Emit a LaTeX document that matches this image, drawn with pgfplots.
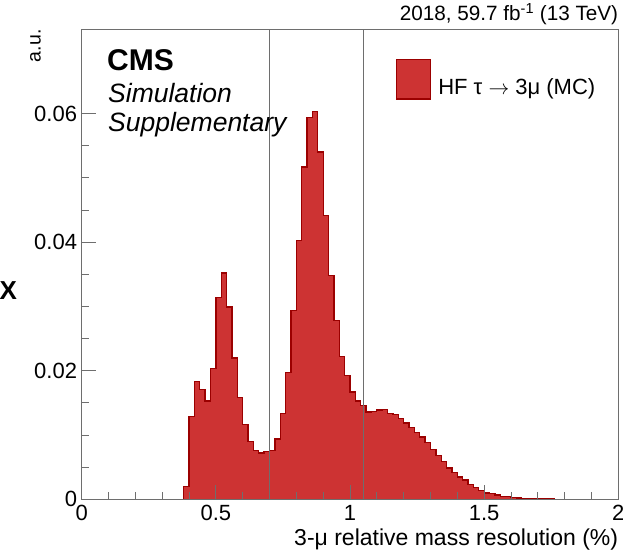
\documentclass[border=0pt]{standalone}
\usepackage{fontspec}
\setmainfont{Liberation Sans}
\usepackage{pgfplots}
\pgfplotsset{compat=1.18}
\definecolor{histfill}{RGB}{205,51,51}
\definecolor{histline}{RGB}{155,0,0}
\definecolor{framegray}{RGB}{110,110,110}
\begin{document}
\begin{tikzpicture}
\begin{axis}[
  name=ax,
  scale only axis,
  width=536.6pt, height=470.1pt,
  xmin=0, xmax=2, ymin=0, ymax=0.0731,
  scaled y ticks=false, scaled x ticks=false,
  clip=false,
  axis on top,
  axis line style={draw=framegray, line width=0.9pt},
  tick style={draw=framegray, line width=0.9pt},
  tick align=inside,
  xtick pos=left, ytick pos=left,
  xtick={0,0.5,1,1.5,2}, xticklabels={0,0.5,1,1.5,2},
  ytick={0,0.02,0.04,0.06}, yticklabels={0,0.02,0.04,0.06},
  minor x tick num=4, minor y tick num=3,
  major tick length=14pt, minor tick length=7pt,
  ticklabel style={font=\fontsize{22}{26}\selectfont, inner sep=0pt},
  xticklabel style={anchor=north, yshift=-6pt},
  yticklabel style={anchor=east, xshift=-4.5pt},
  xlabel={3-μ relative mass resolution (\%)},
  ylabel={a.u.},
  xlabel style={at={(axis description cs:1,-0.0970)}, anchor=base east, inner sep=0pt, font=\fontsize{23}{27}\selectfont},
  ylabel style={at={(axis description cs:-0.07641,1)}, anchor=base east, inner sep=0pt, font=\fontsize{19.5}{23}\selectfont},
  legend style={at={(axis description cs:0.5852,0.8938)}, anchor=west, draw=none, fill=none, inner sep=0pt, outer sep=0pt, font=\fontsize{22}{26}\selectfont, nodes={inner sep=0pt}},
  legend image code/.code={\draw[#1] (0pt,-12pt) rectangle (34.3pt,27.7pt);},
]
\addplot[const plot, fill=histfill, draw=histline, line width=1.3pt] coordinates {
(0.00,0) (0.36,0) (0.38,0.0020) (0.40,0.0129) (0.42,0.0183) (0.44,0.0171)
(0.46,0.0153) (0.48,0.0204) (0.50,0.0314) (0.52,0.0352) (0.54,0.0299)
(0.56,0.0220) (0.58,0.0159) (0.60,0.0116) (0.62,0.0090) (0.64,0.0076)
(0.66,0.0072) (0.68,0.0075) (0.70,0.0076) (0.72,0.0094) (0.74,0.0134)
(0.76,0.0197) (0.78,0.0294) (0.80,0.0403) (0.82,0.0517) (0.84,0.0594)
(0.86,0.0603) (0.88,0.0540) (0.90,0.0442) (0.92,0.0348) (0.94,0.0278)
(0.96,0.0222) (0.98,0.0193) (1.00,0.0167) (1.02,0.0153) (1.04,0.0146)
(1.06,0.0136) (1.08,0.0137) (1.10,0.0139) (1.12,0.0140) (1.14,0.0134)
(1.16,0.0132) (1.18,0.0126) (1.20,0.0119) (1.22,0.0112) (1.24,0.0104)
(1.26,0.0097) (1.28,0.0089) (1.30,0.0078) (1.32,0.0068) (1.34,0.0059)
(1.36,0.0049) (1.38,0.0042) (1.40,0.0035) (1.42,0.0030) (1.44,0.0023)
(1.46,0.0018) (1.48,0.0014) (1.50,0.0010) (1.52,0.0009) (1.54,0.0007)
(1.56,0.0005) (1.58,0.0004) (1.60,0.0003) (1.62,0.00022) (1.64,0.00018)
(1.66,0.00014) (1.68,0.00010) (1.70,0.00008) (1.72,0.00006) (1.74,0.00005)
(1.76,0.00004) (1.78,0.00003) (1.80,0.00003) (1.82,0.00002) (1.84,0.00002)
(1.86,0.00001) (1.88,0.00001) (1.90,0) (2.00,0)
} \closedcycle;
\addlegendentry{\hspace*{7pt}HF τ $\rightarrow$ 3μ (MC)}
\addplot[framegray, line width=0.9pt, forget plot] coordinates {(0.7,0) (0.7,0.0731)};
\addplot[framegray, line width=0.9pt, forget plot] coordinates {(1.05,0) (1.05,0.0731)};
\node[anchor=base east, inner sep=0pt, font=\fontsize{20.7}{24}\selectfont] at (axis description cs:1,1.01829) {2018, 59.7 fb\textsuperscript{-1} (13 TeV)};
\node[anchor=base west, inner sep=0pt, font=\fontsize{30}{34}\selectfont\bfseries] at (axis description cs:0.04715,0.91193) {CMS};
\node[anchor=base west, inner sep=0pt, font=\fontsize{26.5}{30}\selectfont\itshape] at (axis description cs:0.04901,0.84386) {Simulation};
\node[anchor=base west, inner sep=0pt, font=\fontsize{26.5}{30}\selectfont\itshape] at (axis description cs:0.04901,0.78217) {Supplementary};
\node[anchor=center, inner sep=0pt, font=\fontsize{26}{30}\selectfont\bfseries] at (axis description cs:-0.13679,0.44331) {X};
\coordinate (bbsw) at (axis description cs:-0.15225,-0.10764);
\coordinate (bbne) at (axis description cs:1.00876,1.06233);
\end{axis}
\pgfresetboundingbox
\path[use as bounding box] (bbsw) rectangle (bbne);
\end{tikzpicture}
\end{document}
